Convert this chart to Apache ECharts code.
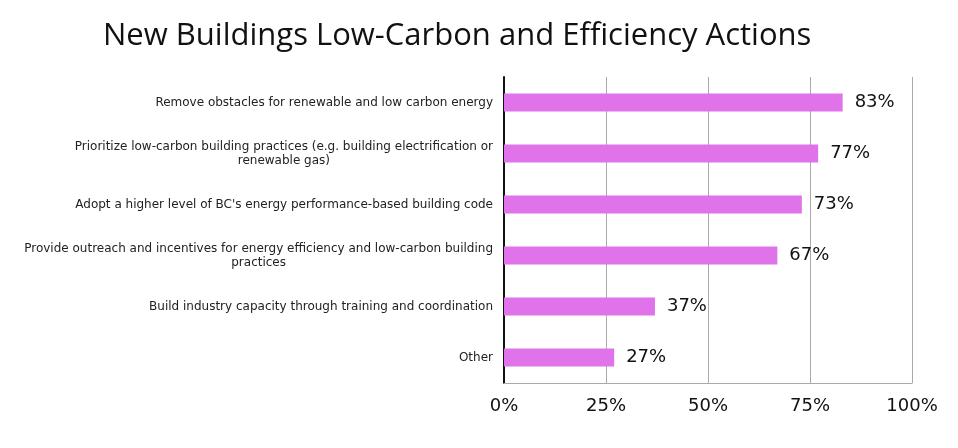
<!DOCTYPE html>
<html>
<head>
<meta charset="utf-8">
<script src="https://cdn.jsdelivr.net/npm/echarts@6/dist/echarts.min.js"></script>
<style>
  html, body { margin: 0; padding: 0; background: #fff; }
  #chart { width: 958px; height: 448px; }
</style>
</head>
<body>
<div id="chart"></div>
<script>
// categories, top to bottom
const categories = [
  "Remove obstacles for renewable and low carbon energy",
  "Prioritize low-carbon building practices (e.g. building electrification or\nrenewable gas)",
  "Adopt a higher level of BC's energy performance-based building code",
  "Provide outreach and incentives for energy efficiency and low-carbon building\npractices",
  "Build industry capacity through training and coordination",
  "Other"
];
// share of respondents (%)
const values = [83, 77, 73, 67, 37, 27];
const xTicks = [0, 25, 50, 75, 100];

const chart = echarts.init(document.getElementById("chart"));

chart.setOption({
  animation: false,
  title: {
    text: "New Buildings Low-Carbon and Efficiency Actions",
    left: 98,
    top: 16,
    textStyle: {
      fontFamily: "Open Sans",
      fontSize: 31,
      fontWeight: "normal",
      color: "#111"
    }
  },
  grid: {
    left: 504,
    right: 46,
    top: 77,
    bottom: 65,
    containLabel: false
  },
  xAxis: {
    type: "value",
    min: xTicks[0],
    max: xTicks[xTicks.length - 1],
    interval: 25,
    axisLine: { show: true, lineStyle: { color: "#aaa", width: 1 } },
    axisTick: { show: false },
    splitLine: { show: true, lineStyle: { color: "#aaa", width: 1 } },
    axisLabel: {
      formatter: "{value}%",
      margin: 14,
      fontFamily: "DejaVu Sans",
      fontSize: 18,
      color: "#111"
    }
  },
  yAxis: {
    type: "category",
    inverse: true,
    data: categories,
    axisLine: { show: true, lineStyle: { color: "#111", width: 2 } },
    axisTick: { show: false },
    splitLine: { show: false },
    axisLabel: {
      margin: 11,
      formatter: function (v) {
        return "{a|" + v + "}";
      },
      rich: {
        a: {
          align: "center",
          fontFamily: "DejaVu Sans",
          fontSize: 12,
          lineHeight: 14,
          color: "#222"
        }
      }
    }
  },
  series: [
    {
      type: "bar",
      data: values,
      barWidth: 18,
      itemStyle: { color: "#e073ea" },
      label: {
        show: true,
        position: "right",
        distance: 12,
        formatter: "{c}%",
        fontFamily: "DejaVu Sans",
        fontSize: 18,
        color: "#111"
      }
    }
  ]
});
</script>
</body>
</html>
